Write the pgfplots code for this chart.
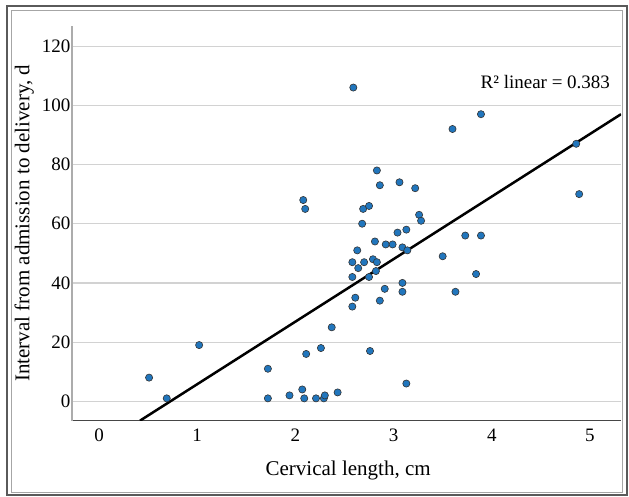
\documentclass[border=0pt]{standalone}
\usepackage{pgfplots}
\pgfplotsset{compat=1.18}
\usepackage{fontspec}
\setmainfont{Liberation Serif}
\definecolor{dotblue}{RGB}{33,118,189}
\definecolor{framegray}{RGB}{90,90,90}

\begin{document}
\begin{tikzpicture}[x=1pt,y=1pt]
\useasboundingbox (0,0) rectangle (629,497);
% outer frame (double line)
\draw[framegray,line width=1.6pt] (7,1.8) rectangle (627,491);
\draw[gray!70,line width=0.7pt] (11,4.5) rectangle (622.8,487);
\begin{axis}[at={(72pt,76.3pt)},anchor=south west,scale only axis,
  width=549pt,height=394.7pt,
  xmin=-0.275,xmax=5.316,ymin=-6.55,ymax=126.8,
  axis x line=bottom,axis y line=left,
  x axis line style={-,draw=gray!55!black,line width=1.2pt},
  y axis line style={-,draw=gray!65,line width=1.2pt},
  xtick={0,1,2,3,4,5},ytick={0,20,...,120},
  major tick length=0pt,
  ymajorgrids,major grid style={draw=gray!35,line width=1.2pt},
  /pgf/number format/assume math mode=true,
  tick label style={font=\fontsize{19}{21}\selectfont},
  xticklabel style={yshift=-5pt},
  yticklabel style={xshift=2pt},
  xlabel={Cervical length, cm},
  ylabel={Interval from admission to delivery, d},
  label style={font=\fontsize{21}{24}\selectfont},
  xlabel style={at={(axis description cs:0.503,-0.125)},anchor=center},
  ylabel style={at={(axis description cs:-0.087,0.5)},anchor=center,rotate=0},
  clip=true]
\addplot[only marks,mark=*,mark size=3.6pt,
  mark options={fill=dotblue,draw=black!80,line width=0.6pt}] coordinates {
(0.51,8) (0.69,1) (1.02,19) (1.72,11) (1.72,1) (1.94,2) (2.07,4) (2.09,1)
(2.11,16) (2.21,1) (2.26,18) (2.29,1) (2.30,2) (2.37,25) (2.43,3)
(2.08,68) (2.10,65) (2.59,106) (3.60,92) (3.89,97) (4.86,87) (4.89,70)
(2.83,78) (2.86,73) (3.06,74) (3.22,72) (2.69,65) (2.75,66) (3.26,63)
(2.68,60) (3.28,61) (3.04,57) (3.13,58) (3.73,56) (3.89,56) (2.81,54)
(2.92,53) (2.99,53) (3.09,52) (3.14,51) (2.63,51) (3.50,49) (2.58,47)
(2.70,47) (2.79,48) (2.83,47) (2.64,45) (2.82,44) (2.58,42) (2.75,42)
(3.84,43) (3.09,40) (3.09,37) (2.91,38) (3.63,37) (2.61,35) (2.86,34)
(2.58,32) (2.76,17) (3.13,6)
};
\addplot[black,line width=2.5pt] coordinates {(0.417,-6.55) (5.316,97.0)};
\end{axis}
\node[anchor=east,font=\fontsize{19}{21}\selectfont] at (613.5,415.3) {R² linear = 0.383};
\end{tikzpicture}
\end{document}
